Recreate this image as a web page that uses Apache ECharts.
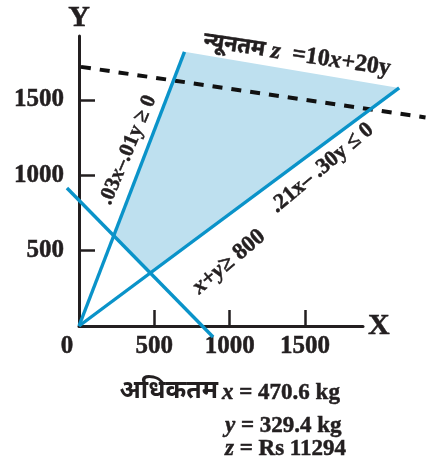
<!DOCTYPE html>
<html>
<head>
<meta charset="utf-8">
<script src="https://cdn.jsdelivr.net/npm/echarts@6/dist/echarts.min.js"></script>
<style>
  html, body { margin: 0; padding: 0; background: #fff; }
  #main { width: 426px; height: 464px; }
</style>
</head>
<body>
<div id="main"></div>
<script>
var xTicks = [500, 1000, 1500];
var yTicks = [500, 1000, 1500];
// constraint lines (data units)
var steepLine = [[0, 0], [700, 1820]];
var shallowLine = [[0, 0], [2125, 1580]];
var sumLine = [[-80, 916], [890, -73]];
var objLine = [[13, 1720], [2300, 1384]];
var feasible = [[700, 1820], [2125, 1580], [471, 352], [232, 602]];

var serif = '"Liberation Serif", "Times New Roman", serif';
var hindi = '"Liberation Serif", "Noto Sans", "DejaVu Sans", sans-serif';
var ink = '#231f20';
var blue = '#0a93c9';

var chart = echarts.init(document.getElementById('main'));

function deg(d) { return d * Math.PI / 180; }

// bold serif text, a hair heavier like the printed figure
function txt(size, extra) {
    var s = {
        fontFamily: serif, fontWeight: 'bold', fontSize: size, fill: ink,
        stroke: ink, lineWidth: 0.5
    };
    for (var k in extra) s[k] = extra[k];
    return s;
}
function italic(size) {
    return { fontStyle: 'italic', fontFamily: serif, fontWeight: 'bold', fontSize: size, fill: ink, stroke: ink, lineWidth: 0.5 };
}

// a line drawn through the axes' scales, allowed to run past the plot area
function lineSeries(points, style, z) {
    return {
        type: 'custom',
        clip: false,
        z: z,
        data: [0],
        renderItem: function (params, api) {
            var pts = points.map(function (p) { return api.coord(p); });
            return { type: 'polyline', shape: { points: pts }, style: style };
        }
    };
}

var axisText = {
    fontFamily: serif, fontWeight: 'bold', fontSize: 25, color: ink,
    textBorderColor: ink, textBorderWidth: 0.5
};

var option = {
    animation: false,
    grid: { left: 79, top: 36, width: 284, height: 290 },
    xAxis: {
        type: 'value', min: 0, max: 1885,
        name: 'X', nameLocation: 'end', nameGap: 5,
        nameTextStyle: { fontFamily: serif, fontWeight: 'bold', fontSize: 30, color: ink, verticalAlign: 'middle', textBorderColor: ink, textBorderWidth: 0.5 },
        axisLine: { lineStyle: { color: ink, width: 3 } },
        axisTick: { inside: true, length: 16, lineStyle: { color: ink, width: 2.5 }, customValues: xTicks },
        axisLabel: Object.assign({
            customValues: xTicks, margin: 8,
            formatter: function (v) { return String(v); }
        }, axisText),
        splitLine: { show: false }
    },
    yAxis: {
        type: 'value', min: 0, max: 1925,
        name: 'Y', nameLocation: 'end', nameGap: 3,
        nameTextStyle: { fontFamily: serif, fontWeight: 'bold', fontSize: 30, color: ink, align: 'center', textBorderColor: ink, textBorderWidth: 0.5 },
        axisLine: { lineStyle: { color: ink, width: 3 } },
        axisTick: { inside: true, length: 16, lineStyle: { color: ink, width: 2.5 }, customValues: yTicks },
        axisLabel: Object.assign({
            customValues: yTicks, margin: 15,
            formatter: function (v) { return String(v); }
        }, axisText),
        splitLine: { show: false }
    },
    series: [
        {
            type: 'custom',
            clip: false,
            z: 1,
            data: [0],
            renderItem: function (params, api) {
                var pts = feasible.map(function (p) { return api.coord(p); });
                return { type: 'polygon', shape: { points: pts }, style: { fill: '#bee0ef' } };
            }
        },
        lineSeries(objLine, { stroke: '#111', lineWidth: 4, lineDash: [10, 9], fill: null }, 3),
        lineSeries(steepLine, { stroke: blue, lineWidth: 3.4, fill: null }, 4),
        lineSeries(shallowLine, { stroke: blue, lineWidth: 3.4, fill: null }, 4),
        lineSeries(sumLine, { stroke: blue, lineWidth: 3.4, fill: null }, 4)
    ],
    graphic: [
        { type: 'text', x: 67, y: 347, style: txt(25, { text: '0', align: 'center', verticalAlign: 'middle' }) },
        {
            type: 'text', x: 128, y: 150, rotation: deg(67),
            style: txt(21, { text: '.03{i|x}–.01y ≥ 0', align: 'center', verticalAlign: 'middle', rich: { i: italic(21) } })
        },
        {
            type: 'text', x: 322, y: 168, rotation: deg(40),
            style: txt(22, { text: '.21x– .30y ≤ 0', align: 'center', verticalAlign: 'middle' })
        },
        {
            type: 'text', x: 229, y: 262, rotation: deg(40),
            style: txt(23, { text: '{i|x}+{i|y}≥ 800', align: 'center', verticalAlign: 'middle', rich: { i: italic(23) } })
        },
        {
            type: 'text', x: 297, y: 55, rotation: deg(-8.5),
            style: txt(24, {
                text: '{h|न्यूनतम} {i|z}  =10{i|x}+20y', align: 'center', verticalAlign: 'middle',
                rich: {
                    h: { fontFamily: hindi, fontWeight: 'bold', fontSize: 22, fill: ink },
                    i: italic(24)
                }
            })
        },
        { type: 'text', x: 218, y: 392, style: { text: 'अधिकतम', fontFamily: hindi, fontWeight: 'bold', fontSize: 25, fill: ink, align: 'right', verticalAlign: 'middle' } },
        {
            type: 'text', x: 222, y: 393,
            style: txt(23, { text: '{i|x} = 470.6 kg', align: 'left', verticalAlign: 'middle', rich: { i: italic(23) } })
        },
        {
            type: 'text', x: 225, y: 426,
            style: txt(23, { text: '{i|y} = 329.4 kg', align: 'left', verticalAlign: 'middle', rich: { i: italic(23) } })
        },
        {
            type: 'text', x: 225, y: 449,
            style: txt(23, { text: '{i|z} = Rs 11294', align: 'left', verticalAlign: 'middle', rich: { i: italic(23) } })
        }
    ]
};

chart.setOption(option);
</script>
</body>
</html>
